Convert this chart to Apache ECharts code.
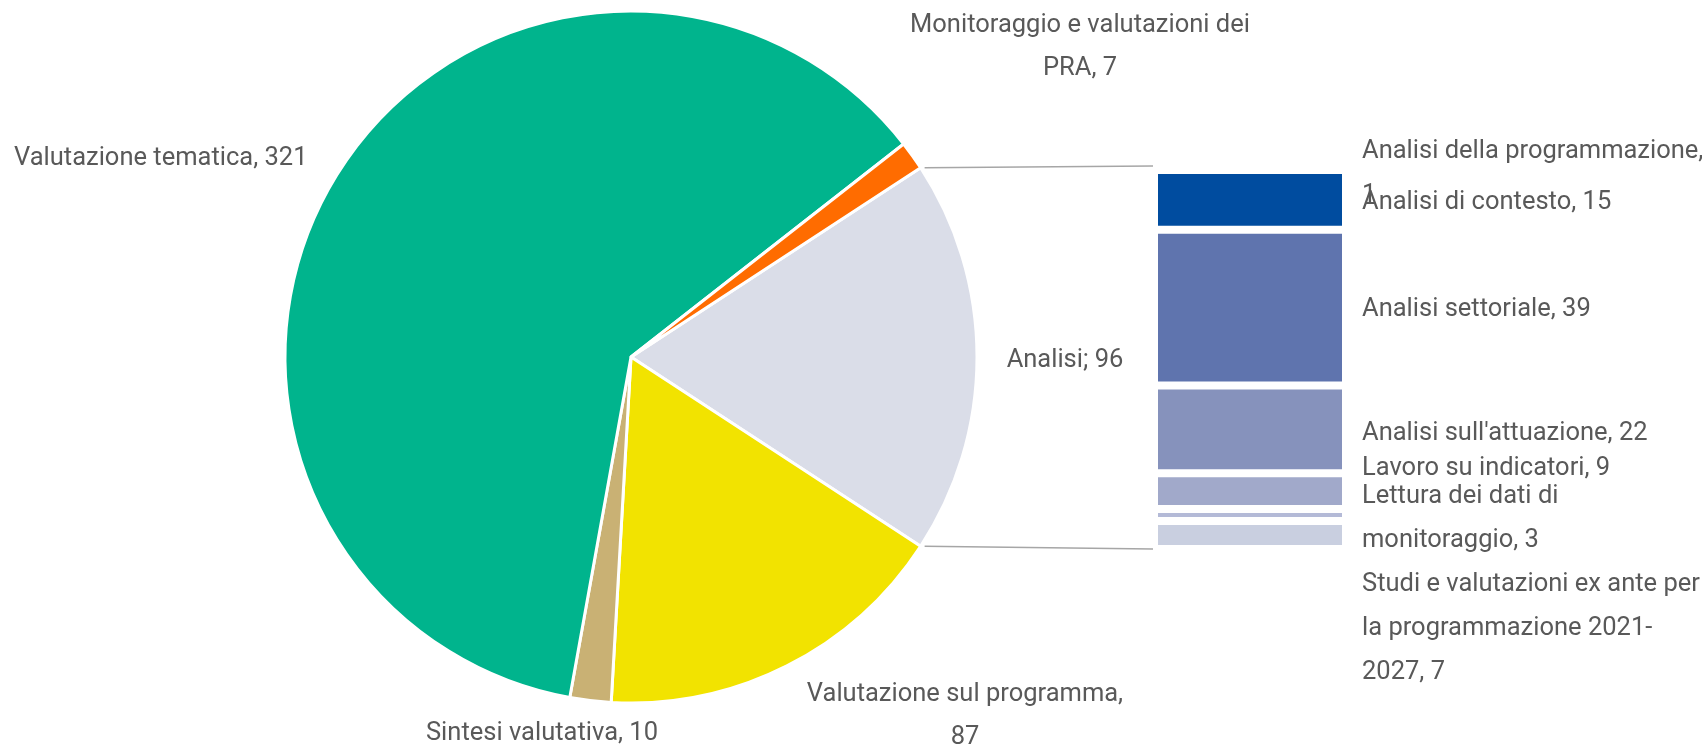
<!DOCTYPE html>
<html>
<head>
<meta charset="utf-8">
<script src="https://cdn.jsdelivr.net/npm/echarts@6/dist/echarts.min.js"></script>
<style>
html,body{margin:0;padding:0;background:#fff;}
#c{width:1702px;height:745px;}
</style>
</head>
<body>
<div id="c"></div>
<script>
// ---- data ----
const pieNames = ['Analisi', 'Valutazione sul programma', 'Sintesi valutativa', 'Valutazione tematica', 'Monitoraggio e valutazioni dei PRA'];
const pieValues = [96, 87, 10, 321, 7];
const pieLabelTemplates = ['{name}; {value}', 'Valutazione sul programma,\n{value}', '{name}, {value}', '{name}, {value}', 'Monitoraggio e valutazioni dei\nPRA, {value}'];

const barNames = ['Analisi della programmazione', 'Analisi di contesto', 'Analisi settoriale', "Analisi sull'attuazione", 'Lavoro su indicatori', 'Lettura dei dati di monitoraggio', 'Studi e valutazioni ex ante per la programmazione 2021-2027'];
const barValues = [1, 15, 39, 22, 9, 3, 7];
const barLabelTemplates = ['Analisi della programmazione,\n{value}', '{name}, {value}', '{name}, {value}', '{name}, {value}', '{name}, {value}', 'Lettura dei dati di\nmonitoraggio, {value}', 'Studi e valutazioni ex ante per\nla programmazione 2021-\n2027, {value}'];

// ---- styles / layout ----
const pieColors = ['#DADDE8', '#F2E300', '#C9B174', '#00B48D', '#FF6C00'];
const barColors = ['#00327A', '#004C9F', '#5F74AE', '#8692BC', '#A1A9CA', '#B4BAD7', '#C9CFE0'];
const pieLabelPos = [
  {x: 1065, y: 361, align: 'center'},
  {x: 965, y: 716, align: 'center'},
  {x: 542, y: 734, align: 'center'},
  {x: 14, y: 159, align: 'left'},
  {x: 1080, y: 47, align: 'center'}
];
const barLabelShift = [6, 3, 2, 4, -23, 4, 94];
const FONT = "'Roboto', sans-serif";
const FS = 25.5;
const TXT = '#595959';
const pieCenter = [631, 357];
const pieRadius = 346;
const gridBox = {left: 1154, top: 166, width: 192, height: 383};

const fill = (tpl, name, value) => tpl.replace('{name}', name).replace('{value}', value);
const total = pieValues.reduce((a, b) => a + b, 0);
const barTotal = barValues.reduce((a, b) => a + b, 0);
const startAngle = 180 * pieValues[0] / total;

const chart = echarts.init(document.getElementById('c'), null, {renderer: 'canvas'});

const option = {
  animation: false,
  grid: gridBox,
  xAxis: {type: 'category', data: ['Analisi'], show: false},
  yAxis: {type: 'value', min: 0, max: barTotal, inverse: true, show: false},
  series: [
    {
      type: 'pie',
      center: pieCenter,
      radius: pieRadius,
      startAngle: startAngle,
      clockwise: true,
      avoidLabelOverlap: false,
      silent: true,
      data: pieNames.map((n, i) => ({name: n, value: pieValues[i], itemStyle: {color: pieColors[i]}})),
      itemStyle: {borderColor: '#fff', borderWidth: 3},
      label: {
        show: true,
        position: 'outside',
        formatter: p => fill(pieLabelTemplates[p.dataIndex], p.name, p.value),
        color: TXT, fontSize: FS, fontFamily: FONT, lineHeight: 43
      },
      labelLine: {show: false},
      labelLayout: p => Object.assign({verticalAlign: 'middle'}, pieLabelPos[p.dataIndex])
    }
  ].concat(barValues.map((v, i) => ({
    type: 'bar',
    name: barNames[i],
    stack: 'analisi',
    barWidth: '100%',
    silent: true,
    data: [v],
    itemStyle: {color: barColors[i], borderColor: '#fff', borderWidth: 4},
    label: {
      show: true,
      position: 'right',
      distance: 16,
      align: 'left',
      formatter: p => fill(barLabelTemplates[i], barNames[i], p.value),
      color: TXT, fontSize: FS, fontFamily: FONT, lineHeight: 44
    },
    labelLayout: {dy: barLabelShift[i]}
  })))
};
chart.setOption(option);

// connector lines from pie slice edges to the bar ends
const a = startAngle * Math.PI / 180;
const ex = pieCenter[0] + pieRadius * Math.cos(a);
const eyTop = pieCenter[1] - pieRadius * Math.sin(a);
const eyBot = pieCenter[1] + pieRadius * Math.sin(a);
const pTop = chart.convertToPixel({gridIndex: 0}, ['Analisi', 0]);
const pBot = chart.convertToPixel({gridIndex: 0}, ['Analisi', barTotal]);
const barLeft = gridBox.left - 1;
chart.setOption({
  graphic: [
    {type: 'line', silent: true, shape: {x1: ex + 4, y1: eyTop, x2: barLeft, y2: pTop[1]}, style: {stroke: '#A6A6A6', lineWidth: 1.5}},
    {type: 'line', silent: true, shape: {x1: ex + 4, y1: eyBot, x2: barLeft, y2: pBot[1]}, style: {stroke: '#A6A6A6', lineWidth: 1.5}}
  ]
});
</script>
</body>
</html>
